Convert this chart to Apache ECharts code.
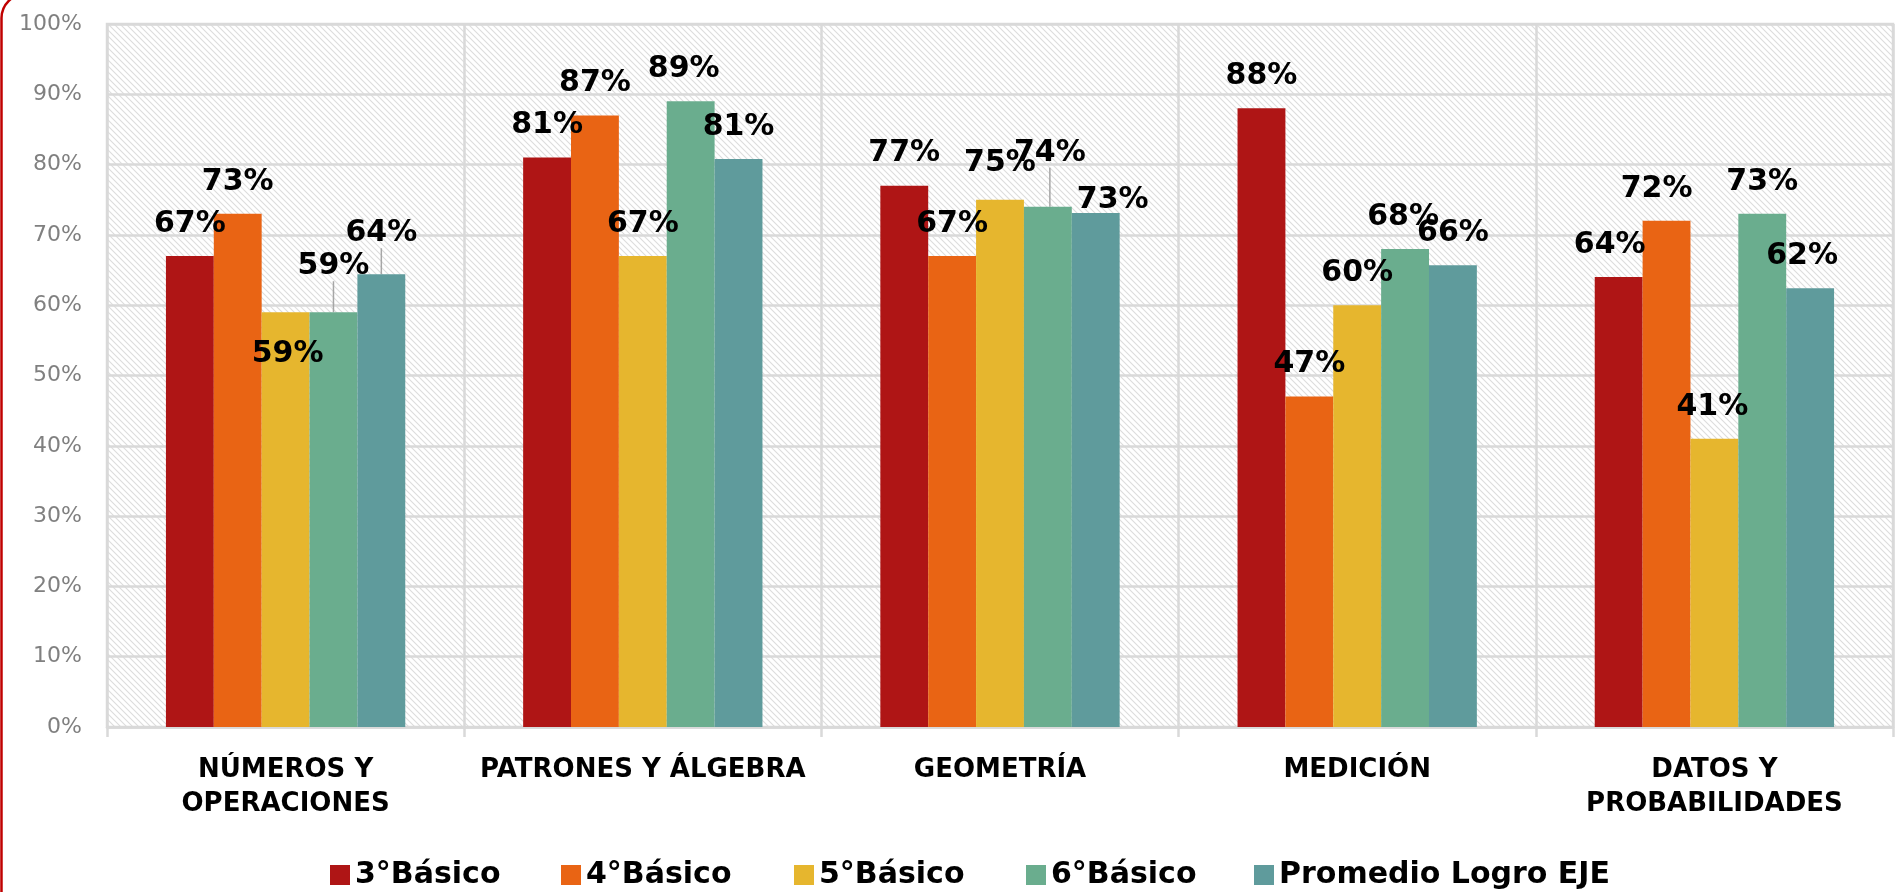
<!DOCTYPE html>
<html>
<head>
<meta charset="utf-8">
<script src="https://cdn.jsdelivr.net/npm/echarts@6/dist/echarts.min.js"></script>
<style>
  html, body { margin: 0; padding: 0; background: #ffffff; }
  #chart { width: 1901px; height: 892px; }
</style>
</head>
<body>
<div id="chart"></div>
<script>
// ---------- DATA ----------
const categories = ['NÚMEROS Y\nOPERACIONES', 'PATRONES Y ÁLGEBRA', 'GEOMETRÍA', 'MEDICIÓN', 'DATOS Y\nPROBABILIDADES'];
const seriesNames = ['3°Básico', '4°Básico', '5°Básico', '6°Básico', 'Promedio Logro EJE'];
const basico3 = [67, 81, 77, 88, 64];
const basico4 = [73, 87, 67, 47, 72];
const basico5 = [59, 67, 75, 60, 41];
const basico6 = [59, 89, 74, 68, 73];
const promedioEje = [64.4, 80.8, 73.1, 65.7, 62.4];
const yTickMin = 0, yTickMax = 100, yTickStep = 10;

// ---------- STYLE / LAYOUT ----------
const colors = ['#AF1515', '#E96414', '#E6B62E', '#6AAD8E', '#5F9B9C'];
const legendLeft = [325, 556, 789, 1021, 1249];
// label nudges (seriesIndex-dataIndex): [dx, dy, showLeaderLine]
const labelNudge = {
  '2-0': [2, 74, false],
  '3-0': [0, -14, true],
  '4-0': [0, -9, true],
  '3-1': [-7, 0, false],
  '2-2': [0, -5, false],
  '3-2': [2, -22, true],
  '4-2': [17, 19, false],
  '3-3': [-2, 0, false],
  '0-4': [-9, 0, false],
  '1-4': [-10, 0, false],
  '2-4': [-2, 0, false],
  '4-4': [-8, 0, false]
};

function hatchPattern() {
  const c = document.createElement('canvas');
  const s = 6;
  c.width = s; c.height = s;
  const ctx = c.getContext('2d');
  ctx.fillStyle = '#ffffff';
  ctx.fillRect(0, 0, s, s);
  ctx.strokeStyle = '#dcdcdc';
  ctx.lineWidth = 1.1;
  for (let k = -1; k <= 1; k++) {
    ctx.beginPath();
    ctx.moveTo(k * s - 1, -1);
    ctx.lineTo(k * s + s + 1, s + 1);
    ctx.stroke();
  }
  return c;
}

const allValues = [basico3, basico4, basico5, basico6, promedioEje];
const labelFont = 'DejaVu Sans';

const series = allValues.map((vals, si) => ({
  name: seriesNames[si],
  type: 'bar',
  barGap: '0%',
  barCategoryGap: '33%',
  itemStyle: { color: colors[si] },
  data: vals.map((v, di) => {
    const n = labelNudge[si + '-' + di];
    const item = { value: v };
    if (n && n[2]) item.labelLine = { show: true };
    return item;
  }),
  label: {
    show: true,
    position: 'top',
    distance: 17,
    formatter: p => Math.round(p.value) + '%',
    fontFamily: labelFont,
    fontWeight: 'bold',
    fontSize: 30,
    color: '#000000'
  },
  labelLine: {
    show: false,
    lineStyle: { color: '#a6a6a6', width: 1.5 }
  },
  labelLayout: function (params) {
    const n = labelNudge[params.seriesIndex + '-' + params.dataIndex];
    if (!n) return {};
    return { dx: n[0], dy: n[1] };
  }
}));

const legends = seriesNames.map((name, i) => ({
  data: [name],
  left: legendLeft[i],
  top: 855,
  icon: 'rect',
  itemWidth: 20,
  itemHeight: 20,
  selectedMode: false,
  textStyle: {
    fontFamily: labelFont,
    fontWeight: 'bold',
    fontSize: 30,
    color: '#000000'
  }
}));

const chart = echarts.init(document.getElementById('chart'), null, { renderer: 'canvas' });
chart.setOption({
  backgroundColor: '#ffffff',
  animation: false,
  grid: {
    left: 107, right: 8, top: 24, bottom: 165,
    show: true,
    backgroundColor: { image: hatchPattern(), repeat: 'repeat' },
    borderColor: '#d9d9d9',
    borderWidth: 2.5
  },
  legend: legends,
  xAxis: {
    type: 'category',
    data: categories,
    axisLine: { show: true, lineStyle: { color: '#d9d9d9', width: 2.5 } },
    axisTick: { show: true, length: 10, lineStyle: { color: '#d9d9d9', width: 2.5 } },
    splitLine: { show: true, lineStyle: { color: '#d9d9d9', width: 2.5 } },
    axisLabel: {
      margin: 26,
      fontFamily: labelFont,
      fontWeight: 'bold',
      fontSize: 26,
      lineHeight: 34,
      color: '#000000',
      interval: 0
    }
  },
  yAxis: {
    type: 'value',
    min: yTickMin,
    max: yTickMax,
    interval: yTickStep,
    axisLine: { show: false },
    axisTick: { show: false },
    splitLine: { show: true, lineStyle: { color: '#d9d9d9', width: 2.5 } },
    axisLabel: {
      margin: 25,
      formatter: '{value}%',
      fontFamily: labelFont,
      fontSize: 22,
      color: '#808080'
    }
  },
  graphic: [{
    type: 'rect',
    silent: true,
    shape: { x: 1.5, y: -6, width: 3000, height: 3000, r: 24 },
    style: { fill: 'none', stroke: '#C00000', lineWidth: 2.5 }
  }],
  series: series
});
</script>
</body>
</html>
